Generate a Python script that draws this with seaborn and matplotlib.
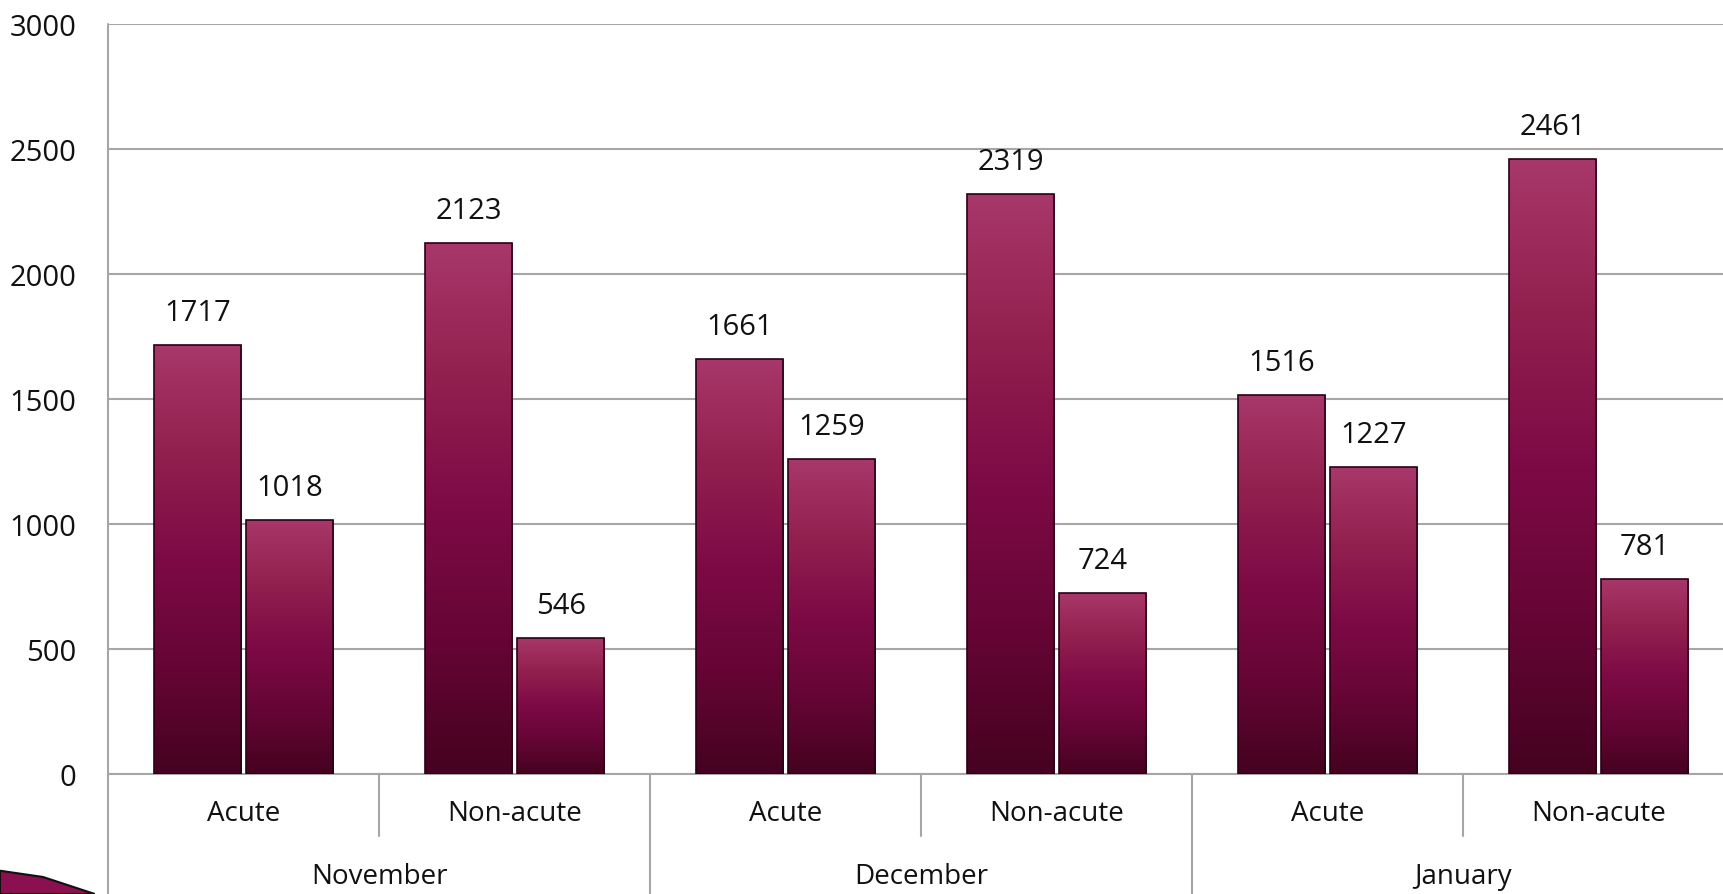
import numpy as np
import pandas as pd
import matplotlib
matplotlib.use("Agg")
import matplotlib.pyplot as plt
import matplotlib.transforms as mtransforms
from matplotlib.colors import LinearSegmentedColormap
from matplotlib.patches import Polygon
import seaborn as sns

# data
months = ["November", "December", "January"]
care_types = ["Acute", "Non-acute"]
series_names = ["Series 1", "Series 2"]
series_1 = [1717, 2123, 1661, 2319, 1516, 2461]
series_2 = [1018, 546, 1259, 724, 1227, 781]
y_ticks = [0, 500, 1000, 1500, 2000, 2500, 3000]

groups = [f"{m} {c}" for m in months for c in care_types]
df = pd.DataFrame({
    "group": groups * 2,
    "series": [series_names[0]] * len(groups) + [series_names[1]] * len(groups),
    "value": series_1 + series_2,
})

sns.set_theme(style="white")
plt.rcParams["font.family"] = ["Open Sans", "DejaVu Sans"]

fig = plt.figure(figsize=(17.23, 8.95), dpi=100)
ax = fig.add_axes([0.0627, 0.134, 0.9437, 0.838])

sns.barplot(data=df, x="group", y="value", hue="series", order=groups,
            hue_order=series_names, palette=["#7a0a45", "#7a0a45"],
            saturation=1, width=0.68, gap=0.05, legend=False, ax=ax,
            edgecolor="#2a0015", linewidth=1.2)

# vertical gradient on every bar
grad = LinearSegmentedColormap.from_list(
    "maroon", ["#450220", "#660535", "#7d0a45", "#92204f", "#a8386a"])
ramp = np.linspace(0, 1, 256).reshape(-1, 1)
for bar in list(ax.patches):
    x0, y0 = bar.get_x(), bar.get_y()
    w, h = bar.get_width(), bar.get_height()
    im = ax.imshow(ramp, cmap=grad, origin="lower", aspect="auto",
                   extent=[x0, x0 + w, y0, y0 + h], zorder=2.5)
    im.set_clip_path(bar)
    bar.set_facecolor("none")
    bar.set_zorder(3)

# value labels
for cont in ax.containers:
    ax.bar_label(cont, labels=[f"{int(v)}" for v in cont.datavalues],
                 padding=13, fontsize=21, color="#111111")

ax.set_xlim(-0.5, len(groups) - 0.5)
ax.set_ylim(0, 3000)
ax.set_yticks(y_ticks)
ax.yaxis.grid(True, color="#a6a6a6", linewidth=1.5)
ax.set_axisbelow(True)
ax.tick_params(axis="y", length=0, pad=23, labelsize=21, labelcolor="#111111")
ax.set_xticks([])
ax.set_xlabel("")
ax.set_ylabel("")
for s in ["top", "right", "bottom", "left"]:
    ax.spines[s].set_visible(False)

trans = mtransforms.blended_transform_factory(ax.transData, ax.transAxes)
line_kw = dict(color="#a6a6a6", linewidth=1.5, transform=trans, clip_on=False)

# axis line and category separators
ax.plot([-0.5, -0.5], [1, -0.17], **line_kw)
ax.plot([-0.5, len(groups) - 0.5], [0, 0], **line_kw)
for i in range(1, len(groups)):
    bottom = -0.17 if i % 2 == 0 else -0.083
    ax.plot([i - 0.5, i - 0.5], [0, bottom], **line_kw)

# two-level category labels
for i, g in enumerate(groups):
    ax.text(i, -0.052, care_types[i % 2], transform=trans, ha="center",
            va="center", fontsize=20, color="#111111")
for j, m in enumerate(months):
    ax.text(2 * j + 0.5, -0.136, m, transform=trans, ha="center",
            va="center", fontsize=20, color="#111111")

# slide decoration in the lower-left corner
fig.patches.append(Polygon([(0, 0.026), (0.025, 0.019), (0.055, 0.0), (0, 0)],
                           closed=True, transform=fig.transFigure,
                           facecolor="#8a1050", edgecolor="#111111", lw=1.5))

fig.savefig("out.png", dpi=100)
